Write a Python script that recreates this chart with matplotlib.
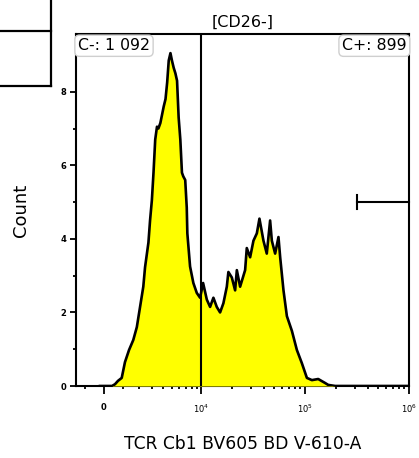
import numpy as np
import matplotlib
matplotlib.use("Agg")
import matplotlib.pyplot as plt
from matplotlib.lines import Line2D
from matplotlib.ticker import FixedLocator, FixedFormatter

# ---- data ----
fluor = [-210, 420, 580, 740, 945, 1130, 1370, 1630, 1860, 2080, 2310, 2440,
         2700, 2830, 2980, 3120, 3270, 3430, 3560, 3750, 4090, 4280, 4460,
         4640, 4840, 5020, 5240, 5460, 5680, 5900, 6140, 6380, 6580, 6890,
         7140, 7240, 7710, 8320, 9000, 9700, 10390, 11300, 12170, 13110,
         14140, 15230, 16400, 17700, 18330, 19790, 21300, 22130, 23800,
         26600, 27600, 29730, 32000, 34500, 36550, 39950, 43000, 46300,
         48100, 51750, 55700, 57850, 62250, 67100, 74960, 83700, 93500,
         104500, 116800, 134200, 156700, 167400, 195400, 1000000]
counts = [0, 0, 0.05, 0.14, 0.22, 0.65, 0.98, 1.25, 1.6, 2.15, 2.7, 3.23,
          3.9, 4.5, 5.05, 5.8, 6.7, 7.05, 7.0, 7.15, 7.6, 7.8, 8.25, 8.85,
          9.05, 8.85, 8.65, 8.5, 8.3, 7.3, 6.7, 5.8, 5.7, 5.6, 4.85, 4.15,
          3.25, 2.8, 2.53, 2.4, 2.8, 2.35, 2.15, 2.4, 2.15, 2.0, 2.25, 2.7,
          3.1, 2.95, 2.6, 3.15, 2.7, 3.15, 3.75, 3.5, 3.95, 4.15, 4.55, 3.95,
          3.6, 4.5, 3.95, 3.6, 4.05, 3.5, 2.6, 1.9, 1.5, 0.98, 0.62, 0.22,
          0.16, 0.19, 0.08, 0.03, 0, 0]

gate_split = 10000
gate_pos = [318000, 1000000]
gate_pos_level = 5.0
title = "[CD26-]"
xlabel = "TCR Cb1 BV605 BD V-610-A"
ylabel = "Count"
neg_label = "C-: 1 092"
pos_label = "C+: 899"
x_major = [0, 1e4, 1e5, 1e6]
x_major_labels = ["0", r"$10^4$", r"$10^5$", r"$10^6$"]
x_minor = [-1000] + [k * 1000 for k in range(1, 10)] + \
          [k * 10000 for k in range(2, 10)] + [k * 100000 for k in range(2, 10)]
y_major = [0, 2, 4, 6, 8]
y_minor = [1, 3, 5, 7]

# ---- scale ----
W = 2350.0
LN10 = np.log(10)
def fwd(x):
    return np.arcsinh(np.asarray(x, dtype=float) / W) / LN10
def inv(y):
    return W * np.sinh(np.asarray(y, dtype=float) * LN10)

fig = plt.figure(figsize=(4.19, 4.58), dpi=100)
ax = fig.add_axes([76 / 419, (458 - 386) / 458, 333 / 419, 352 / 458])
ax.set_xscale("function", functions=(fwd, inv))
ax.set_xlim(-1550, 1e6)
ax.set_ylim(0, 9.57)

ax.fill_between(fluor, counts, 0, color="#FFFF00", lw=0, zorder=3)
ax.plot(fluor, counts, color="black", lw=1.9, zorder=4, solid_joinstyle="round")

# gates
ax.axvline(gate_split, color="black", lw=1.5, zorder=5)
ax.plot(gate_pos, [gate_pos_level, gate_pos_level], color="black", lw=1.5,
        zorder=5, clip_on=False)
ax.plot([gate_pos[0], gate_pos[0]], [gate_pos_level - 0.19, gate_pos_level + 0.19],
        color="black", lw=1.5, zorder=5)

# labels in boxes
box = dict(boxstyle="round,pad=0.2,rounding_size=0.3", fc="white", ec="#cfcfcf", lw=1)
ax.text(0.006, 0.988, neg_label, transform=ax.transAxes, ha="left", va="top",
        fontsize=11.3, bbox=box, zorder=6)
ax.text(0.993, 0.988, pos_label, transform=ax.transAxes, ha="right", va="top",
        fontsize=11.3, bbox=box, zorder=6)

for s in ax.spines.values():
    s.set_linewidth(1.5)
    s.set_zorder(2.5)

ax.xaxis.set_major_locator(FixedLocator(x_major))
ax.xaxis.set_major_formatter(FixedFormatter(x_major_labels))
ax.xaxis.set_minor_locator(FixedLocator(x_minor))
ax.yaxis.set_major_locator(FixedLocator(y_major))
ax.yaxis.set_minor_locator(FixedLocator(y_minor))
ax.tick_params(axis="x", which="major", length=6, width=1.3, labelsize=6, pad=6)
ax.tick_params(axis="x", which="minor", length=2, width=1.3)
ax.tick_params(axis="y", which="major", length=4, width=1.3, labelsize=6, pad=3)
ax.tick_params(axis="y", which="minor", length=2, width=1.3)
for lab in ax.get_yticklabels() + ax.get_xticklabels():
    lab.set_fontweight("bold")

ax.set_title(title, fontsize=11.5, pad=5)
ax.set_xlabel(xlabel, fontsize=12.3, labelpad=14)
ax.set_ylabel(ylabel, fontsize=13, labelpad=22)

# partial panel frame at top-left
for xs, ys in [([0, 51], [458 - 31, 458 - 31]), ([0, 51], [458 - 86, 458 - 86]),
               ([51, 51], [458, 458 - 86])]:
    fig.add_artist(Line2D([x / 419 for x in xs], [y / 458 for y in ys],
                          transform=fig.transFigure, color="black", lw=1.6))

fig.savefig("out.png", dpi=100)
